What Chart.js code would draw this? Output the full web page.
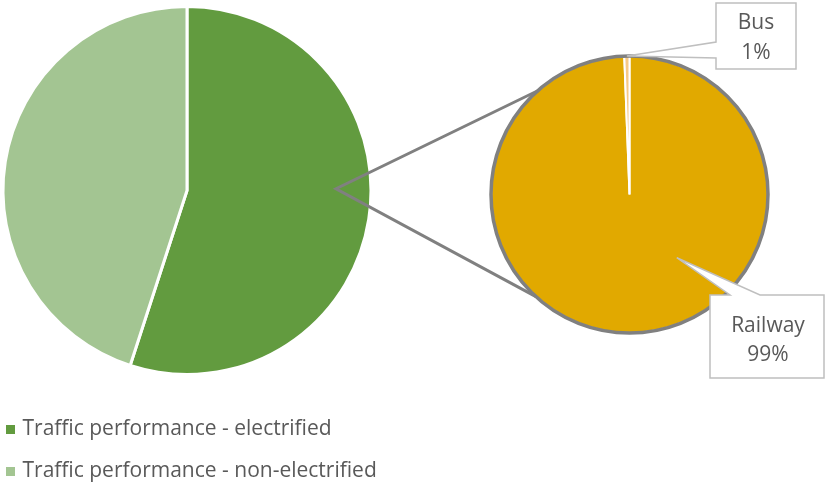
<!DOCTYPE html>
<html>
<head>
<meta charset="utf-8">
<script src="https://cdn.jsdelivr.net/npm/chart.js@4/dist/chart.umd.min.js"></script>
<style>
  html, body { margin: 0; padding: 0; background: #ffffff; overflow: hidden; width: 825px; height: 482px; }
  #wrap { position: relative; width: 825px; height: 482px; overflow: hidden; }
  #c1 { position: absolute; left: -12px; top: -20px; }
  #c2 { position: absolute; left: 0; top: 0; pointer-events: none; }
</style>
</head>
<body>
<div id="wrap">
  <canvas id="c1" width="420" height="512"></canvas>
  <canvas id="c2" width="825" height="482"></canvas>
</div>
<script>
// ---- data ----
const mainLabels = ['Traffic performance - electrified', 'Traffic performance - non-electrified'];
const mainValues = [55, 45];
const detailLabels = ['Railway', 'Bus'];
const detailValues = [99.4, 0.6];

const mainColors = ['#629b3f', '#a3c592'];
const detailColors = ['#e1a900', '#f6c987'];
const FONT = '"Open Sans", Lato, sans-serif';
const FSIZE = 21;
const TEXT = '#595959';
const GRAY = '#808080';

const c1 = document.getElementById('c1');
const c2 = document.getElementById('c2');

const defaultPieLabels = Chart.controllers.pie.overrides.plugins.legend.labels.generateLabels;

const mainChart = new Chart(c1, {
  type: 'pie',
  data: {
    labels: mainLabels,
    datasets: [{
      data: mainValues,
      backgroundColor: mainColors,
      borderColor: '#ffffff',
      borderWidth: 3,
      radius: 184
    }]
  },
  options: {
    responsive: false,
    animation: false,
    layout: { padding: { left: 0, right: 22, top: 3, bottom: 0 } },
    plugins: {
      tooltip: { enabled: false },
      legend: {
        position: 'bottom',
        align: 'start',
        labels: {
          usePointStyle: true,
          pointStyle: 'rect',
          boxWidth: 3,
          boxHeight: 9,
          padding: 21,
          color: TEXT,
          font: { family: FONT, size: FSIZE },
          generateLabels(chart) {
            return defaultPieLabels(chart).map(it => Object.assign(it, { lineWidth: 0, strokeStyle: 'rgba(0,0,0,0)' }));
          }
        }
      }
    }
  }
});

function pct(v, arr) {
  const t = arr.reduce((a, b) => a + b, 0);
  return Math.round(v / t * 100) + '%';
}

const detailPlugin = {
  id: 'detailExtras',
  afterDatasetsDraw(chart) {
    const ctx = chart.ctx;
    const meta = chart.getDatasetMeta(0);
    const arcR = meta.data[0].getProps(['x', 'y', 'outerRadius', 'startAngle', 'endAngle'], true);
    const arcB = meta.data[1].getProps(['x', 'y', 'outerRadius', 'startAngle', 'endAngle'], true);
    const cx = arcR.x, cy = arcR.y, R = arcR.outerRadius;

    ctx.save();
    // outer gray ring
    ctx.beginPath();
    ctx.arc(cx, cy, R, 0, Math.PI * 2);
    ctx.lineWidth = 3.5;
    ctx.strokeStyle = GRAY;
    ctx.stroke();

    // connector lines from the electrified slice of the main pie
    const r1 = c1.getBoundingClientRect();
    const r2 = c2.getBoundingClientRect();
    const m = mainChart.getDatasetMeta(0).data[0].getProps(['x', 'y', 'outerRadius'], true);
    const ax = m.x + r1.left - r2.left + 0.81 * m.outerRadius * Math.cos(-0.012);
    const ay = m.y + r1.top - r2.top + 0.81 * m.outerRadius * Math.sin(-0.012);
    const angUp = -131.5 * Math.PI / 180, angDn = 132.5 * Math.PI / 180;
    ctx.beginPath();
    ctx.moveTo(cx + R * Math.cos(angUp), cy + R * Math.sin(angUp));
    ctx.lineTo(ax, ay);
    ctx.lineTo(cx + R * Math.cos(angDn), cy + R * Math.sin(angDn));
    ctx.lineWidth = 3;
    ctx.lineJoin = 'miter';
    ctx.strokeStyle = GRAY;
    ctx.stroke();

    // callouts
    ctx.lineWidth = 1.5;
    ctx.strokeStyle = '#bfbfbf';
    ctx.fillStyle = '#ffffff';
    ctx.font = FSIZE + 'px ' + FONT;
    ctx.textAlign = 'center';
    ctx.textBaseline = 'middle';

    // Bus callout
    const busMid = (arcB.startAngle + arcB.endAngle) / 2;
    const bt = { x: cx + R * Math.cos(busMid), y: cy + R * Math.sin(busMid) };
    const bL = cx + 86.5, bT = cy - 191.5, bW = 80, bH = 66;
    ctx.beginPath();
    ctx.moveTo(bL, bT);
    ctx.lineTo(bL + bW, bT);
    ctx.lineTo(bL + bW, bT + bH);
    ctx.lineTo(bL, bT + bH);
    ctx.lineTo(bL, bT + 55);
    ctx.lineTo(bt.x, bt.y);
    ctx.lineTo(bL, bT + 39);
    ctx.closePath();
    ctx.fill();
    ctx.stroke();
    ctx.fillStyle = TEXT;
    ctx.fillText(detailLabels[1], bL + bW / 2, bT + 20);
    ctx.fillText(pct(detailValues[1], detailValues), bL + bW / 2, bT + 50);

    // Railway callout
    const ra = 53.2 * Math.PI / 180;
    const rt = { x: cx + 0.57 * R * Math.cos(ra), y: cy + 0.57 * R * Math.sin(ra) };
    const rL = cx + 80.5, rT = cy + 100.5, rW = 114, rH = 83;
    ctx.fillStyle = '#ffffff';
    ctx.beginPath();
    ctx.moveTo(rL, rT);
    ctx.lineTo(rL + 20, rT);
    ctx.lineTo(rt.x, rt.y);
    ctx.lineTo(rL + 50, rT);
    ctx.lineTo(rL + rW, rT);
    ctx.lineTo(rL + rW, rT + rH);
    ctx.lineTo(rL, rT + rH);
    ctx.closePath();
    ctx.fill();
    ctx.stroke();
    ctx.fillStyle = TEXT;
    ctx.fillText(detailLabels[0], rL + 58, rT + 31);
    ctx.fillText(pct(detailValues[0], detailValues), rL + 58, rT + 60);
    ctx.restore();
  }
};

const detailChart = new Chart(c2, {
  type: 'pie',
  data: {
    labels: detailLabels,
    datasets: [{
      data: detailValues,
      backgroundColor: detailColors,
      borderColor: '#ffffff',
      borderWidth: 2
    }]
  },
  options: {
    responsive: false,
    animation: false,
    layout: { padding: { left: 490, right: 56, top: 55, bottom: 148 } },
    plugins: {
      tooltip: { enabled: false },
      legend: { display: false }
    }
  },
  plugins: [detailPlugin]
});
</script>
</body>
</html>
